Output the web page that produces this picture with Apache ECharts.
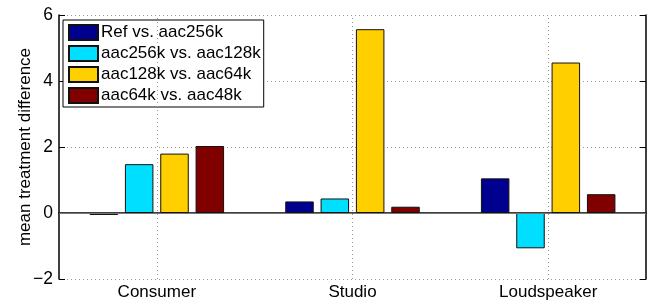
<!DOCTYPE html>
<html>
<head>
<meta charset="utf-8">
<script src="https://cdn.jsdelivr.net/npm/echarts@6/dist/echarts.min.js"></script>
<style>
  html, body { margin: 0; padding: 0; background: #fff; }
  #chart { width: 654px; height: 301px; }
</style>
</head>
<body>
<div id="chart"></div>
<script>
// categories and series values
var categories = ['Consumer', 'Studio', 'Loudspeaker'];
var seriesNames = ['Ref vs. aac256k', 'aac256k vs. aac128k', 'aac128k vs. aac64k', 'aac64k vs. aac48k'];
var refVs256 = [-0.06, 0.35, 1.05];
var v256vs128 = [1.48, 0.44, -1.07];
var v128vs64 = [1.80, 5.57, 4.56];
var v64vs48 = [2.03, 0.19, 0.57];
var yTicks = [-2, 0, 2, 4, 6];

var colors = ['#00008f', '#00dfff', '#ffcf00', '#800000'];
var font = 'Liberation Sans';
var dotted = { color: '#999', type: [1, 3], width: 1 };

var chart = echarts.init(document.getElementById('chart'));

var values = [refVs256, v256vs128, v128vs64, v64vs48];
var series = values.map(function (d, i) {
    return {
        name: seriesNames[i],
        type: 'bar',
        data: d,
        barWidth: 28.5,
        barGap: '24%',
        itemStyle: { color: colors[i], borderColor: '#111', borderWidth: 1 },
        emphasis: { disabled: true }
    };
});

// empty helper series: dotted lines at the category centres and the zero baseline
series.push({
    type: 'line',
    data: [],
    silent: true,
    markLine: {
        silent: true,
        symbol: 'none',
        label: { show: false },
        animation: false,
        data: [
            { xAxis: categories[0], lineStyle: dotted },
            { xAxis: categories[1], lineStyle: dotted },
            { xAxis: categories[2], lineStyle: dotted },
            { yAxis: 0, lineStyle: { color: '#777', type: 'solid', width: 1 } }
        ]
    }
});

var option = {
    animation: false,
    grid: { left: 59, right: 8, top: 15, bottom: 22, containLabel: false, outerBoundsMode: 'none' },
    legend: {
        orient: 'vertical',
        left: 63,
        top: 20,
        padding: [4, 3, 3, 5],
        itemWidth: 29,
        itemHeight: 15,
        itemGap: 4,
        icon: 'rect',
        backgroundColor: '#fff',
        borderColor: '#000',
        borderWidth: 1,
        borderRadius: 0,
        textStyle: { fontFamily: font, fontSize: 17, color: '#000', lineHeight: 15, padding: [0, 0, 0, -2] },
        data: seriesNames
    },
    xAxis: [{
        type: 'category',
        data: categories,
        position: 'bottom',
        axisLine: { lineStyle: { color: '#000', width: 1.5 } },
        axisTick: { inside: true, alignWithLabel: true, length: 6, lineStyle: { color: '#000' } },
        axisLabel: { fontFamily: font, fontSize: 17, color: '#000', margin: 5 },
        splitLine: { show: false }
    }, {
        type: 'category',
        data: categories,
        position: 'top',
        axisLine: { lineStyle: { color: '#000', width: 1 } },
        axisTick: { inside: true, alignWithLabel: true, length: 6, lineStyle: { color: '#000' } },
        axisLabel: { show: false },
        splitLine: { show: false }
    }],
    yAxis: [{
        type: 'value',
        min: yTicks[0],
        max: yTicks[yTicks.length - 1],
        interval: 2,
        name: 'mean treatment difference',
        nameLocation: 'middle',
        nameRotate: 90,
        nameGap: 25,
        nameMoveOverlap: false,
        nameTextStyle: { fontFamily: font, fontSize: 17, color: '#000' },
        axisLine: { show: true, lineStyle: { color: '#000', width: 1.5 } },
        axisTick: { show: true, inside: true, length: 6, lineStyle: { color: '#000' } },
        axisLabel: {
            fontFamily: font, fontSize: 17.5, color: '#000', margin: 6,
            formatter: function (v) { return v < 0 ? '\u2212' + (-v) : String(v); }
        },
        splitLine: { show: true, lineStyle: dotted }
    }, {
        type: 'value',
        min: yTicks[0],
        max: yTicks[yTicks.length - 1],
        interval: 2,
        position: 'right',
        axisLine: { show: true, lineStyle: { color: '#000', width: 1.5 } },
        axisTick: { show: true, inside: true, length: 6, lineStyle: { color: '#000' } },
        axisLabel: { show: false },
        splitLine: { show: false }
    }],
    series: series
};

chart.setOption(option);
</script>
</body>
</html>
